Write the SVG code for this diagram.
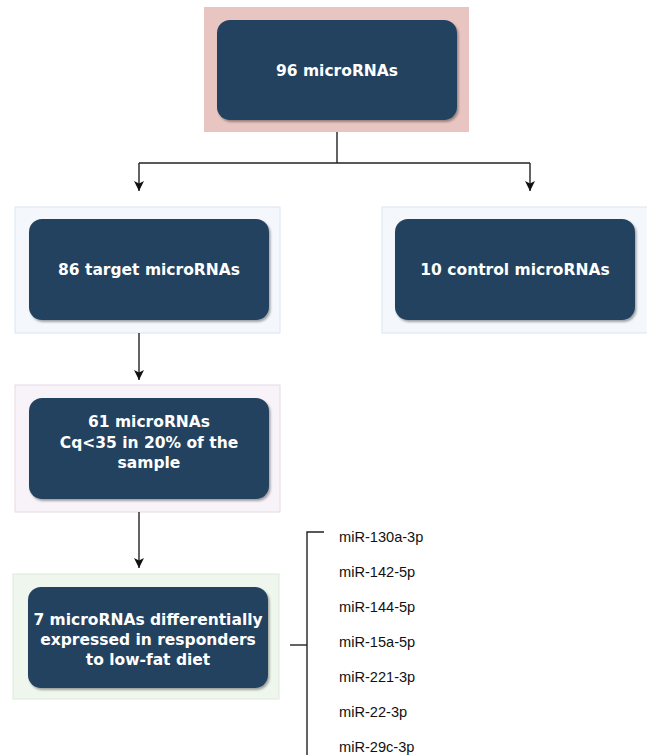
<svg xmlns="http://www.w3.org/2000/svg" width="647" height="755" viewBox="0 0 647 755">
<defs>
<marker id="arr" viewBox="0 0 10 10" refX="10" refY="5" markerWidth="10" markerHeight="10" markerUnits="userSpaceOnUse" orient="auto">
<path d="M0,0 L10,5 L0,10 L2.5,5 z" fill="#111"/>
</marker>
<filter id="sh" x="-10%" y="-10%" width="120%" height="130%">
<feDropShadow dx="1.5" dy="2" stdDeviation="1.2" flood-color="#000" flood-opacity="0.35"/>
</filter>
</defs>
<style>
.inner{fill:#24425e;filter:url(#sh)}
.lbl{font-family:"DejaVu Sans",Verdana,sans-serif;font-weight:bold;font-size:15.5px;fill:#fff;text-anchor:middle}
.lst{font-family:"Liberation Sans",Arial,sans-serif;font-size:14.6px;fill:#111}
.con{stroke:#222;stroke-width:1.4;fill:none}
</style>
<rect width="647" height="755" fill="#fff"/>
<g id="n96">
<rect x="204" y="7" width="265" height="125" fill="#e8c5c1"/>
<rect class="inner" x="217" y="20" width="240" height="100" rx="13"/>
<text class="lbl" x="337" y="76">96 microRNAs</text>
</g>
<g id="n86">
<rect x="15" y="207" width="265" height="126" fill="#f4f7fc" stroke="#dbe5f2"/>
<rect class="inner" x="29" y="219" width="240" height="101" rx="13"/>
<text class="lbl" x="149" y="275">86 target microRNAs</text>
</g>
<g id="n10">
<rect x="382" y="207" width="280" height="126" fill="#f4f7fc" stroke="#dbe5f2"/>
<rect class="inner" x="395" y="219" width="240" height="101" rx="13"/>
<text class="lbl" x="515" y="275">10 control microRNAs</text>
</g>
<g id="n61">
<rect x="15" y="385" width="265" height="127" fill="#f8f3f8" stroke="#e6dae6"/>
<rect class="inner" x="29" y="398" width="240" height="101" rx="13"/>
<text class="lbl" x="149" y="427">61 microRNAs</text>
<text class="lbl" x="149" y="448">Cq&lt;35 in 20% of the</text>
<text class="lbl" x="149" y="468">sample</text>
</g>
<g id="n7">
<rect x="13" y="574" width="266" height="125" fill="#eff6ee" stroke="#dcebd8"/>
<rect class="inner" x="28" y="587" width="240" height="101" rx="13"/>
<text class="lbl" x="148" y="625">7 microRNAs differentially</text>
<text class="lbl" x="148" y="645">expressed in responders</text>
<text class="lbl" x="148" y="665">to low-fat diet</text>
</g>
<g id="list">
<text class="lst" x="339" y="542">miR-130a-3p</text>
<text class="lst" x="339" y="577">miR-142-5p</text>
<text class="lst" x="339" y="612">miR-144-5p</text>
<text class="lst" x="339" y="647">miR-15a-5p</text>
<text class="lst" x="339" y="682">miR-221-3p</text>
<text class="lst" x="339" y="717">miR-22-3p</text>
<text class="lst" x="339" y="752">miR-29c-3p</text>
</g>
<g id="connectors">
<path class="con" d="M337,132 V163"/>
<path class="con" d="M139,163 H530"/>
<path class="con" d="M139,163 V191" marker-end="url(#arr)"/>
<path class="con" d="M530,163 V191" marker-end="url(#arr)"/>
<path class="con" d="M139,333 V380" marker-end="url(#arr)"/>
<path class="con" d="M139,512 V568" marker-end="url(#arr)"/>
<path class="con" d="M290,645 H307" stroke-width="2"/>
<path class="con" d="M324,532 H307 V755" stroke-width="2"/>
</g>
</svg>
